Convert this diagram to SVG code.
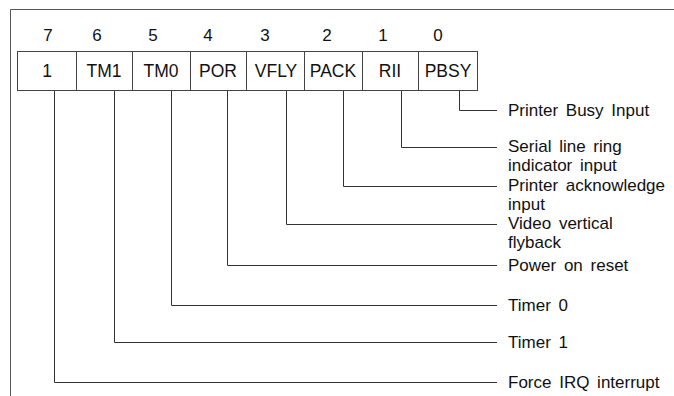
<svg xmlns="http://www.w3.org/2000/svg" width="674" height="396" viewBox="0 0 674 396">
<style>
.bg{fill:#fff}
.frame{fill:none;stroke:#555;stroke-width:1}
.box{fill:#fff;stroke:#444;stroke-width:1}
.wire{fill:none;stroke:#333;stroke-width:1}
.t{font-family:"Liberation Sans",Arial,sans-serif;font-size:17.5px;fill:#111}
.l{font-family:"Liberation Sans",Arial,sans-serif;font-size:17px;fill:#111;word-spacing:3px}
.c{text-anchor:middle}
.num{font-family:"Liberation Sans",Arial,sans-serif;font-size:17px;fill:#111;text-anchor:middle}
</style>
<rect class="bg" x="0" y="0" width="674" height="396"/>
<path class="frame" d="M10.5,396 V9.5 H674"/>
<g id="bitnumbers">
<text class="num" x="48" y="41">7</text>
<text class="num" x="97" y="41">6</text>
<text class="num" x="153" y="41">5</text>
<text class="num" x="208" y="41">4</text>
<text class="num" x="265" y="41">3</text>
<text class="num" x="327" y="41">2</text>
<text class="num" x="383" y="41">1</text>
<text class="num" x="438" y="41">0</text>
</g>
<g id="bit7"><rect class="box" x="17.5" y="51.5" width="59" height="39"/><text class="t c" x="47" y="77">1</text></g>
<g id="bit6"><rect class="box" x="76.5" y="51.5" width="56" height="39"/><text class="t c" x="104" y="77">TM1</text></g>
<g id="bit5"><rect class="box" x="132.5" y="51.5" width="58" height="39"/><text class="t c" x="161" y="77">TM0</text></g>
<g id="bit4"><rect class="box" x="190.5" y="51.5" width="56" height="39"/><text class="t c" x="218" y="77">POR</text></g>
<g id="bit3"><rect class="box" x="246.5" y="51.5" width="58" height="39"/><text class="t c" x="276" y="77">VFLY</text></g>
<g id="bit2"><rect class="box" x="304.5" y="51.5" width="58" height="39"/><text class="t c" x="333" y="77">PACK</text></g>
<g id="bit1"><rect class="box" x="362.5" y="51.5" width="56" height="39"/><text class="t c" x="390" y="77">RII</text></g>
<g id="bit0"><rect class="box" x="418.5" y="51.5" width="59" height="39"/><text class="t c" x="448" y="77">PBSY</text></g>
<g id="connectors">
<path class="wire" d="M459.5,91 V110.5 H497"/>
<path class="wire" d="M401.5,91 V147.5 H497"/>
<path class="wire" d="M343.5,91 V186.5 H497"/>
<path class="wire" d="M286.5,91 V224.5 H497"/>
<path class="wire" d="M227.5,91 V265.5 H497"/>
<path class="wire" d="M171.5,91 V305.5 H497"/>
<path class="wire" d="M114.5,91 V342.5 H497"/>
<path class="wire" d="M54.5,91 V382.5 H497"/>
</g>
<g id="labels">
<text class="l" x="508" y="116">Printer Busy Input</text>
<text class="l" x="508" y="152">Serial line ring</text>
<text class="l" x="508" y="171">indicator input</text>
<text class="l" x="508" y="191">Printer acknowledge</text>
<text class="l" x="508" y="210">input</text>
<text class="l" x="508" y="229">Video vertical</text>
<text class="l" x="508" y="248">flyback</text>
<text class="l" x="508" y="271">Power on reset</text>
<text class="l" x="508" y="311">Timer 0</text>
<text class="l" x="508" y="348">Timer 1</text>
<text class="l" x="508" y="388">Force IRQ interrupt</text>
</g>
</svg>
